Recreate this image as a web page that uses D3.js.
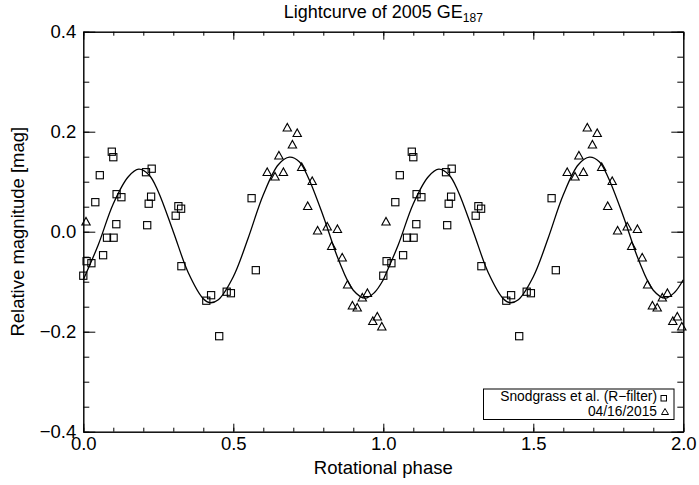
<!DOCTYPE html>
<html><head><meta charset="utf-8">
<script src="https://cdn.jsdelivr.net/npm/d3@7"></script>
<style>
body{margin:0;background:#fff}
svg{display:block}
text{font-family:"Liberation Sans",Arial,Helvetica,sans-serif;fill:#000}
</style>
</head><body>
<svg id="chart" width="699" height="485"></svg>
<script>
// ---- data (phase 0..1, repeated for the second cycle) ----
const squarePhase = [0.095,0.100,0.055,0.040,0.111,0.127,0.110,0.079,0.101,0.066,0.011,0.027,
  0.209,0.228,0.226,0.218,0.213,0.317,0.326,0.308,0.327,0.575,0.426,0.410,0.478,0.492,0.453,0.561,0.000];
const squareMag = [0.160,0.149,0.113,0.059,0.075,0.069,0.015,-0.012,-0.012,-0.047,-0.059,-0.063,
  0.119,0.126,0.070,0.056,0.013,0.051,0.046,0.032,-0.069,-0.077,-0.127,-0.138,-0.120,-0.123,-0.209,0.067,-0.088];
const trianglePhase = [0.680,0.713,0.697,0.652,0.613,0.639,0.667,0.728,0.763,0.748,0.781,0.813,
  0.847,0.828,0.863,0.881,0.930,0.947,0.897,0.913,0.965,0.980,0.995,0.009];
const triangleMag = [0.209,0.198,0.175,0.153,0.120,0.111,0.120,0.130,0.102,0.052,0.003,0.011,
  0.006,-0.028,-0.051,-0.105,-0.131,-0.122,-0.147,-0.151,-0.178,-0.169,-0.189,0.021];
const fitPhase = [0.00,0.05,0.10,0.15,0.185,0.22,0.25,0.30,0.35,0.40,0.422,0.45,0.50,0.55,0.60,
  0.65,0.687,0.72,0.75,0.80,0.85,0.90,0.94,0.97,1.00];
const fitMag = [-0.096,-0.026,0.056,0.110,0.125,0.113,0.080,0.000,-0.082,-0.134,-0.142,-0.136,-0.090,
  -0.012,0.074,0.134,0.149,0.140,0.108,0.031,-0.055,-0.117,-0.133,-0.122,-0.096];
const cycles = [0, 1];
const xTicks = [0, 0.5, 1, 1.5, 2];
const xTickLabels = ["0.0", "0.5", "1.0", "1.5", "2.0"];
const yTicks = [-0.4, -0.2, 0, 0.2, 0.4];
const yTickLabels = ["\u22120.4", "\u22120.2", "0.0", "0.2", "0.4"];
const legendLabels = ["Snodgrass et al. (R\u2212filter)", "04/16/2015"];

// ---- layout ----
const L = 83.3, R = 683.3, T = 31.7, B = 431.7;
const svg = d3.select("#chart");
const x = d3.scaleLinear().domain([0, 2]).range([L, R]);
const y = d3.scaleLinear().domain([-0.4, 0.4]).range([B, T]);

const xMinor = d3.range(0, 2.0001, 0.1);
const yMinor = d3.range(-0.4, 0.4001, 0.05);

function styleAxis(g) {
  g.selectAll("path.domain").attr("stroke", "#000").attr("stroke-width", 1);
  g.selectAll(".tick line").attr("stroke", "#000").attr("stroke-width", 1);
}

// bottom
const bx = svg.append("g").attr("transform", `translate(0,${B})`)
  .call(d3.axisBottom(x).tickValues(xTicks).tickFormat((d, i) => xTickLabels[i])
    .tickSizeInner(-8).tickSizeOuter(0).tickPadding(5));
bx.selectAll("text").attr("font-size", 18.5);
styleAxis(bx);
const bxm = svg.append("g").attr("transform", `translate(0,${B})`)
  .call(d3.axisBottom(x).tickValues(xMinor).tickFormat("").tickSizeInner(-4).tickSizeOuter(0));
styleAxis(bxm);
// top
const tx = svg.append("g").attr("transform", `translate(0,${T})`)
  .call(d3.axisTop(x).tickValues(xTicks).tickFormat("").tickSizeInner(-8).tickSizeOuter(0));
styleAxis(tx);
const txm = svg.append("g").attr("transform", `translate(0,${T})`)
  .call(d3.axisTop(x).tickValues(xMinor).tickFormat("").tickSizeInner(-4).tickSizeOuter(0));
styleAxis(txm);
// left
const ly = svg.append("g").attr("transform", `translate(${L},0)`)
  .call(d3.axisLeft(y).tickValues(yTicks).tickFormat((d, i) => yTickLabels[i])
    .tickSizeInner(-12).tickSizeOuter(0).tickPadding(7));
ly.selectAll("text").attr("font-size", 18.5);
styleAxis(ly);
const lym = svg.append("g").attr("transform", `translate(${L},0)`)
  .call(d3.axisLeft(y).tickValues(yMinor).tickFormat("").tickSizeInner(-6).tickSizeOuter(0));
styleAxis(lym);
// right
const ry = svg.append("g").attr("transform", `translate(${R},0)`)
  .call(d3.axisRight(y).tickValues(yTicks).tickFormat("").tickSizeInner(-12).tickSizeOuter(0));
styleAxis(ry);
const rym = svg.append("g").attr("transform", `translate(${R},0)`)
  .call(d3.axisRight(y).tickValues(yMinor).tickFormat("").tickSizeInner(-6).tickSizeOuter(0));
styleAxis(rym);

// titles
const title = svg.append("text").attr("x", (L + R) / 2).attr("y", 18)
  .attr("text-anchor", "middle").attr("font-size", 18);
title.append("tspan").text("Lightcurve of 2005 GE");
title.append("tspan").attr("font-size", 12).attr("dy", 4).text("187");

svg.append("text").attr("x", (L + R) / 2).attr("y", 474).attr("text-anchor", "middle")
  .attr("font-size", 18.5).text("Rotational phase");
svg.append("text").attr("transform", `translate(24,${(T + B) / 2}) rotate(-90)`)
  .attr("text-anchor", "middle").attr("font-size", 18.5).text("Relative magnitude [mag]");

// fit curve
const fitPts = [];
cycles.forEach(c => fitPhase.forEach((p, i) => fitPts.push([p + c, fitMag[i]])));
const line = d3.line().x(d => x(d[0])).y(d => y(d[1])).curve(d3.curveCatmullRom.alpha(0.5));
svg.append("path").datum(fitPts).attr("d", line)
  .attr("fill", "none").attr("stroke", "#000").attr("stroke-width", 1.3);

// points
const sq = [], tri = [];
cycles.forEach(c => {
  squarePhase.forEach((p, i) => sq.push([p + c, squareMag[i]]));
  trianglePhase.forEach((p, i) => tri.push([p + c, triangleMag[i]]));
});
const S = 3.6;
svg.append("g").selectAll("rect").data(sq).join("rect")
  .attr("x", d => x(d[0]) - S).attr("y", d => y(d[1]) - S)
  .attr("width", 2 * S).attr("height", 2 * S)
  .attr("fill", "none").attr("stroke", "#000").attr("stroke-width", 1.1);
const triPath = (cx, cy, w, h) => `M${cx - w},${cy + h}L${cx},${cy - h}L${cx + w},${cy + h}Z`;
svg.append("g").selectAll("path").data(tri).join("path")
  .attr("d", d => triPath(x(d[0]), y(d[1]), 4.2, 3.8))
  .attr("fill", "none").attr("stroke", "#000").attr("stroke-width", 1.1);

// legend
const lg = svg.append("g");
lg.append("rect").attr("x", 483.5).attr("y", 389).attr("width", 190.5).attr("height", 30.5)
  .attr("fill", "#fff").attr("stroke", "#000").attr("stroke-width", 1);
lg.append("text").attr("x", 657).attr("y", 400.5).attr("text-anchor", "end").attr("font-size", 13.8)
  .text(legendLabels[0]);
lg.append("text").attr("x", 657).attr("y", 416).attr("text-anchor", "end").attr("font-size", 13.8)
  .text(legendLabels[1]);
lg.append("rect").attr("x", 661).attr("y", 395.5).attr("width", 5.5).attr("height", 5.5)
  .attr("fill", "none").attr("stroke", "#000").attr("stroke-width", 1);
lg.append("path").attr("d", triPath(665, 411.5, 3.5, 3))
  .attr("fill", "none").attr("stroke", "#000").attr("stroke-width", 1);
</script>
</body></html>
